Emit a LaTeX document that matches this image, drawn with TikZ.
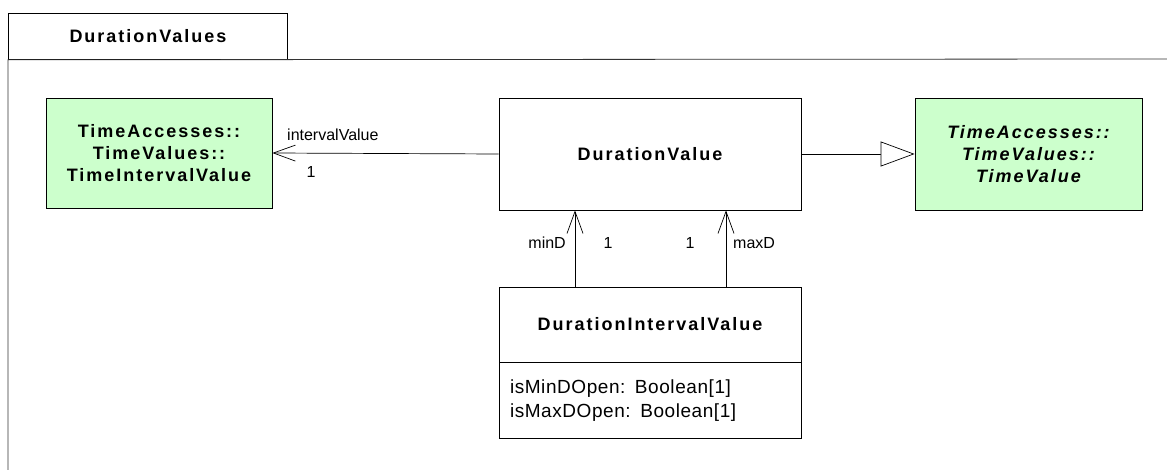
\documentclass[tikz,border=0pt]{standalone}
\usepackage{fontspec}
\setmainfont{Liberation Sans}
\usetikzlibrary{arrows.meta,positioning}
\definecolor{umlgreen}{HTML}{CCFFCC}

\begin{document}
\begin{tikzpicture}[
    x=1pt, y=1pt,
    box/.style={rectangle, draw=black, fill=white, align=center, inner sep=0pt, line width=0.8pt, font=\fontsize{18}{22}\selectfont\bfseries\addfontfeature{LetterSpace=11}},
    greenbox/.style={box, fill=umlgreen},
    rolelabel/.style={font=\fontsize{16}{19}\selectfont, inner sep=0pt},
    assoc/.style={-{Straight Barb[length=22pt, width=16pt]}, line width=0.7pt},
    gen/.style={-{Triangle[open, length=34pt, width=25pt, fill=white]}, line width=0.7pt}
]
    \useasboundingbox (0,0) rectangle (1167,-470);

    % Frame
    \node[box, anchor=north west, minimum width=279, minimum height=46] (tab) at (8,-13) {DurationValues};
    \draw[line width=0.8pt, black!80] (8,-470) -- (tab.south west) -- (1167,-59);

    % Nodes
    \node[greenbox, minimum width=226, minimum height=110] (tiv) at (159,-153) {TimeAccesses::\\TimeValues::\\TimeIntervalValue};
    \node[box, minimum width=302, minimum height=112] (dv) at (650,-154) {DurationValue};
    \node[greenbox, minimum width=227, minimum height=112, font=\fontsize{18}{22}\selectfont\bfseries\itshape\addfontfeature{LetterSpace=11}] (tv) at (1028.5,-154) {TimeAccesses::\\TimeValues::\\TimeValue};
    \node[box, minimum width=302, minimum height=75] (div) at (650,-324.5) {DurationIntervalValue};
    \node[box, below=0pt of div, minimum width=302, minimum height=76, align=left, text width=280, font=\fontsize{19}{24}\selectfont\addfontfeature{LetterSpace=3}] (divattr) {isMinDOpen: Boolean[1]\\isMaxDOpen: Boolean[1]};

    % Arrows
    \draw[assoc] (dv.west) -- (tiv.east);
    \draw[gen] (dv.east) -- (tv.west);
    \draw[assoc] ([xshift=-75pt]div.north) -- ([xshift=-75pt]dv.south);
    \draw[assoc] ([xshift=76pt]div.north) -- ([xshift=76pt]dv.south);

    % Labels
    \node[rolelabel, anchor=west] (ivname) at (287,-135) {intervalValue};
    \node[rolelabel] (ivmult) at (311,-172) {1};
    \node[rolelabel, anchor=east] (minname) at (566,-243) {minD};
    \node[rolelabel] (minmult) at (608,-243) {1};
    \node[rolelabel] (maxmult) at (690,-243) {1};
    \node[rolelabel, anchor=west] (maxname) at (733,-243) {maxD};

\end{tikzpicture}
\end{document}
